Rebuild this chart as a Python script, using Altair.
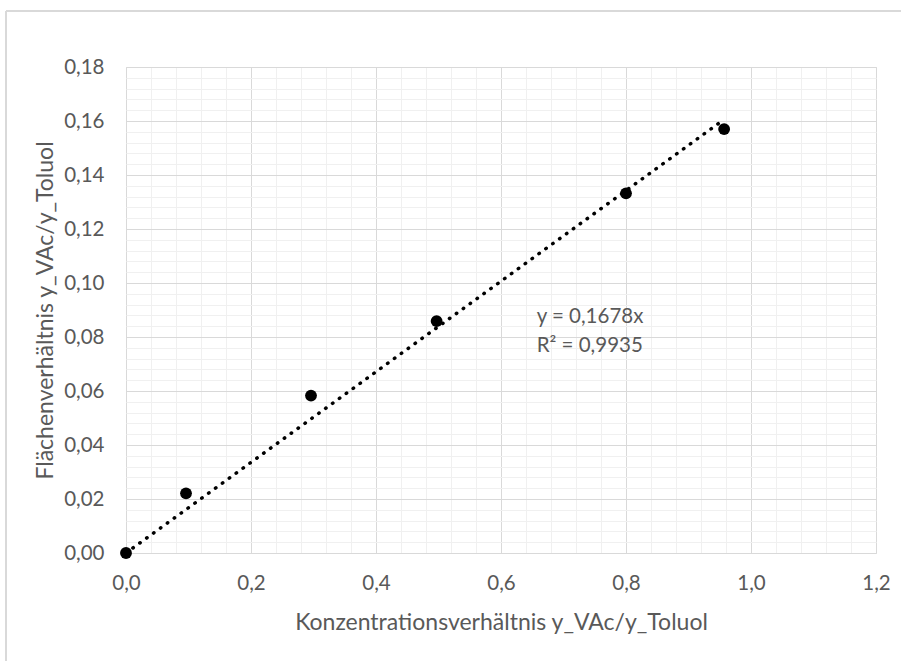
import altair as alt
import pandas as pd

# data
conc_ratio = [0.0, 0.096, 0.296, 0.497, 0.800, 0.957]
area_ratio = [0.0, 0.0221, 0.0583, 0.0859, 0.1332, 0.1570]
slope = 0.1678
r2 = 0.9935
label_pos_x = [0.657]
label_pos_y = [0.0874]

x_ticks = [round(i * 0.04, 2) for i in range(31)]
y_ticks = [round(i * 0.004, 3) for i in range(46)]

pts = pd.DataFrame({"x": conc_ratio, "y": area_ratio})
trend = pd.DataFrame({"x": [min(conc_ratio), max(conc_ratio)]})
trend["y"] = slope * trend["x"]
label_df = pd.DataFrame({"x": label_pos_x, "y": label_pos_y,
                         "t": [f"y = {str(slope).replace('.', ',')}x\nR² = {str(r2).replace('.', ',')}"]})

FONT = "Lato"
TXT = "#595959"
W, H = 750, 486
LBL = 20.5
TTL = 23

xmaj = "abs(datum.value*5 - round(datum.value*5)) < 1e-6"
ymaj = "abs(datum.value*50 - round(datum.value*50)) < 1e-6"

xscale = alt.Scale(domain=[0, 1.2], nice=False, zero=False)
yscale = alt.Scale(domain=[0, 0.18], nice=False, zero=False)

xaxis = alt.Axis(
    values=x_ticks, tickCount=200, title="Konzentrationsverhältnis y_VAc/y_Toluol",
    labelExpr=f"({xmaj}) ? replace(format(datum.value, '.1f'), '.', ',') : ''",
    gridColor={"condition": {"test": xmaj, "value": "#d9d9d9"}, "value": "#f0f0f0"},
    gridWidth=1, ticks=False, domain=False, labelOverlap=False, labelFlush=False,
    labelFont=FONT, labelFontSize=LBL, labelColor=TXT, labelPadding=30, labelBaseline="middle",
    titleFont=FONT, titleFontSize=TTL, titleFontWeight="normal", titleColor=TXT,
    titleX=W / 2, titleY=69, titleBaseline="middle", titleAnchor="middle",
)
yaxis = alt.Axis(
    values=y_ticks, tickCount=200, title="Flächenverhältnis y_VAc/y_Toluol",
    labelExpr=f"({ymaj}) ? replace(format(datum.value, '.2f'), '.', ',') : ''",
    gridColor={"condition": {"test": ymaj, "value": "#d9d9d9"}, "value": "#f0f0f0"},
    gridWidth=1, ticks=False, domain=False, labelOverlap=False, labelFlush=False,
    labelFont=FONT, labelFontSize=LBL, labelColor=TXT, labelPadding=22,
    titleFont=FONT, titleFontSize=TTL, titleFontWeight="normal", titleColor=TXT,
    titleX=-81, titleY=H / 2, titleBaseline="middle", titleAnchor="middle", titleAngle=270,
)

base_pts = alt.Chart(pts).mark_circle(size=140, color="black", opacity=1).encode(
    x=alt.X("x:Q", scale=xscale, axis=xaxis),
    y=alt.Y("y:Q", scale=yscale, axis=yaxis),
)

trend_line = alt.Chart(trend).mark_line(
    color="black", strokeWidth=3.5, strokeDash=[0.5, 8], strokeCap="round"
).encode(x=alt.X("x:Q", scale=xscale), y=alt.Y("y:Q", scale=yscale))

eq_text = alt.Chart(label_df).mark_text(
    align="left", baseline="middle", font=FONT, fontSize=LBL, color=TXT,
    lineHeight=29, lineBreak="\n"
).encode(x=alt.X("x:Q", scale=xscale), y=alt.Y("y:Q", scale=yscale), text="t:N")

frame_left = alt.Chart(pts).mark_rule(color="#d9d9d9", strokeWidth=1.5).encode(
    x=alt.value(-120), y=alt.value(-56), y2=alt.value(H + 200))
frame_top = alt.Chart(pts).mark_rule(color="#d9d9d9", strokeWidth=1.5).encode(
    x=alt.value(-120), x2=alt.value(W + 200), y=alt.value(-56))

chart = alt.layer(trend_line, base_pts, eq_text, frame_left, frame_top).properties(
    width=W, height=H,
    autosize=alt.AutoSizeParams(type="none"),
    padding={"left": 126, "top": 67, "right": 25, "bottom": 108},
).configure_view(stroke=None).configure(background="white")

chart.save("out.html", embed_options={"renderer": "svg", "actions": False})
